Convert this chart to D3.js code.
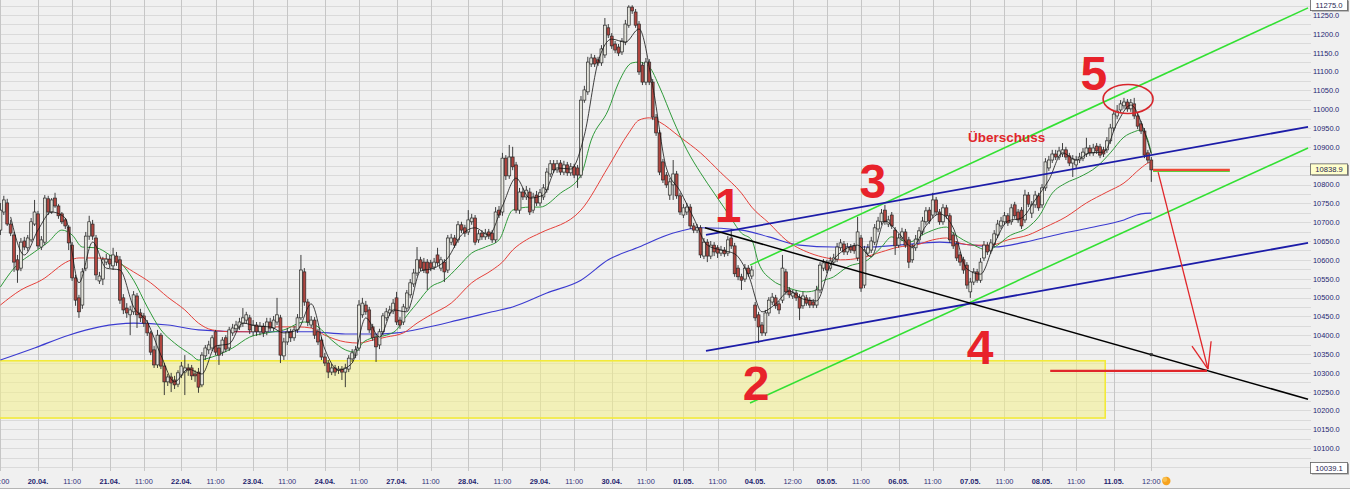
<!DOCTYPE html>
<html><head><meta charset="utf-8">
<script src="https://cdn.jsdelivr.net/npm/d3@7/dist/d3.min.js"></script>
<style>
html,body{margin:0;padding:0;background:#f0f0f0;}
svg{display:block;}
</style></head>
<body><svg id="c" width="1350" height="489"></svg>
<script>
// ---------- DATA (hourly bars, 17.04 11:00 ... 11.05 12:00) ----------
const openP = [
10679,10727,10751,10695,10666,10600,10578,10650,10632,10653,10695,
10722,10634,10647,10762,10727,10764,10743,10722,10706,10687,10639,10552,10499,10480,10578,10663,10695,10658,10544,10549,10594,
10602,10584,10610,10600,10499,10472,10454,10462,10504,10459,10451,10432,10406,10361,10321,10400,10318,10276,10289,10281,10270,
10294,10302,10313,10313,10297,10302,10268,10345,10361,10366,10409,10366,10355,10393,10366,10406,10417,10422,10432,10440,10446,
10409,10427,10409,10424,10409,10435,10419,10435,10446,10345,10382,10409,10393,10414,10446,10568,10488,10427,10440,10409,10387,
10342,10326,10302,10313,10307,10310,10302,10310,10337,10347,10366,10454,10480,10467,10422,10395,10374,10409,10446,10459,10464,
10499,10440,10435,10472,10507,10536,10565,10600,10594,10594,10592,10581,10613,10578,10594,10573,10647,10658,10653,10693,10685,
10674,10701,10711,10653,10671,10661,10674,10671,10653,10732,10727,10870,10823,10873,10852,10732,10780,10767,10780,10732,10772,
10751,10767,10786,10828,10855,10839,10857,10833,10852,10831,10847,10844,10825,11024,11046,11120,11136,11131,11123,11144,11216,
11194,11173,11165,11152,11178,11223,11271,11258,11226,11117,11072,11125,11072,10979,10937,10860,10825,10772,10799,10828,10770,
10719,10727,10740,10690,10679,10685,10610,10647,10610,10639,10632,10618,10626,10618,10658,10637,10578,10555,10549,10578,10557,
10480,10454,10427,10406,10459,10488,10499,10483,10493,10568,10520,10504,10512,10501,10478,10499,10493,10488,10480,10520,10578,
10592,10578,10594,10602,10632,10642,10621,10634,10637,10605,10658,10533,10618,10626,10647,10682,10701,10732,10695,10719,10679,
10639,10658,10674,10653,10600,10632,10653,10674,10701,10732,10719,10759,10727,10701,10738,10717,10666,10642,10613,10600,10586,
10515,10541,10568,10546,10605,10639,10624,10642,10666,10690,10701,10717,10701,10746,10727,10732,10706,10772,10724,10746,10770,
10746,10791,10844,10865,10881,10873,10881,10892,10876,10857,10852,10865,10870,10881,10897,10884,10902,10900,10892,10892,10916,
10950,10982,10998,11009,11019,11001,11014,10982,10961,10942,10884,10865];
const highP = [
10751,10770,10762,10706,10674,10613,10658,10661,10666,10711,10759,
10730,10663,10772,10770,10764,10778,10748,10727,10711,10692,10647,10560,10507,10578,10674,10717,10706,10666,10568,10608,10616,
10613,10632,10621,10610,10509,10485,10478,10517,10512,10470,10459,10440,10411,10371,10414,10406,10326,10297,10300,10292,10307,
10329,10347,10324,10321,10307,10313,10355,10374,10385,10400,10414,10374,10395,10400,10422,10430,10438,10446,10472,10462,10454,
10440,10435,10435,10432,10446,10446,10451,10499,10454,10393,10419,10417,10424,10456,10613,10578,10496,10451,10448,10417,10395,
10353,10334,10324,10321,10318,10318,10324,10347,10363,10371,10493,10499,10491,10475,10430,10403,10417,10459,10472,10478,10496,
10515,10448,10483,10520,10549,10576,10634,10608,10605,10602,10600,10605,10632,10608,10602,10666,10669,10666,10703,10701,10693,
10732,10722,10719,10679,10679,10682,10682,10679,10740,10743,10884,10878,10905,10900,10860,10791,10791,10796,10791,10778,10783,
10788,10801,10844,10865,10865,10865,10865,10863,10860,10857,10855,10852,11035,11062,11139,11147,11144,11139,11170,11242,11226,
11202,11181,11173,11189,11237,11276,11276,11266,11234,11125,11136,11133,11080,10987,10945,10868,10833,10817,10865,10836,10778,
10748,10751,10748,10698,10695,10692,10658,10655,10650,10647,10639,10637,10634,10663,10682,10645,10586,10563,10589,10586,10584,
10488,10462,10435,10467,10501,10512,10507,10491,10613,10576,10528,10520,10520,10509,10515,10507,10501,10496,10531,10594,10602,
10600,10608,10616,10645,10655,10650,10645,10642,10645,10714,10666,10637,10642,10661,10695,10714,10735,10746,10717,10727,10687,
10669,10685,10682,10661,10642,10666,10687,10714,10740,10740,10778,10767,10735,10748,10746,10724,10674,10650,10621,10608,10594,
10552,10578,10576,10605,10650,10647,10655,10679,10706,10714,10727,10724,10748,10754,10735,10740,10786,10780,10756,10783,10778,
10801,10870,10876,10892,10892,10900,10910,10900,10884,10878,10876,10884,10897,10924,10905,10908,10910,10908,10900,10926,10961,
10998,11011,11024,11030,11027,11027,11030,10990,10969,10950,10892,10873];
const lowP = [
10666,10719,10690,10663,10568,10539,10570,10626,10623,10647,10690,
10629,10626,10639,10719,10722,10738,10709,10695,10682,10626,10544,10478,10446,10470,10570,10653,10653,10546,10536,10533,10586,
10578,10573,10584,10483,10456,10446,10400,10454,10419,10435,10422,10398,10347,10313,10313,10310,10241,10265,10249,10257,10262,
10286,10241,10292,10281,10276,10247,10262,10334,10350,10358,10347,10321,10345,10355,10358,10398,10409,10414,10422,10430,10403,
10398,10398,10400,10395,10400,10411,10411,10427,10326,10334,10374,10382,10385,10406,10440,10478,10424,10419,10390,10374,10334,
10318,10286,10294,10292,10297,10281,10262,10302,10329,10339,10358,10446,10454,10406,10385,10329,10363,10400,10438,10451,10456,
10427,10417,10427,10464,10499,10528,10557,10570,10565,10520,10570,10573,10584,10570,10541,10565,10639,10632,10645,10671,10661,
10666,10693,10639,10645,10653,10653,10655,10645,10645,10711,10717,10812,10815,10838,10724,10722,10759,10759,10719,10724,10743,
10743,10759,10778,10820,10831,10831,10825,10825,10823,10823,10817,10791,10817,11017,11038,11112,11112,11115,11115,11136,11189,
11160,11149,11141,11144,11170,11216,11253,11216,11091,11064,11064,11064,10971,10929,10825,10804,10791,10759,10759,10762,10719,
10711,10719,10682,10671,10671,10605,10602,10594,10602,10610,10605,10610,10608,10610,10629,10555,10546,10520,10541,10555,10549,
10438,10379,10398,10398,10451,10480,10470,10456,10485,10507,10499,10496,10491,10440,10470,10478,10472,10472,10472,10512,10570,
10565,10570,10586,10594,10624,10613,10613,10618,10616,10597,10515,10525,10610,10618,10639,10674,10693,10693,10687,10682,10613,
10632,10650,10632,10578,10592,10624,10645,10666,10693,10695,10711,10719,10693,10693,10709,10645,10629,10597,10584,10563,10523,
10499,10533,10539,10539,10597,10613,10616,10634,10658,10682,10693,10690,10693,10709,10698,10682,10698,10740,10711,10738,10730,
10738,10783,10836,10857,10865,10865,10873,10865,10849,10820,10844,10857,10862,10873,10876,10876,10881,10870,10873,10884,10908,
10942,10974,10990,11001,10993,10993,10974,10947,10934,10870,10857,10807];
const closeP = [
10732,10759,10695,10671,10594,10573,10647,10634,10658,10701,10727,
10637,10653,10764,10727,10759,10743,10717,10701,10690,10645,10552,10493,10462,10568,10663,10701,10663,10560,10557,10600,10602,
10589,10613,10594,10493,10467,10459,10467,10507,10454,10446,10432,10406,10355,10321,10400,10318,10276,10289,10273,10268,10300,
10318,10313,10307,10292,10292,10262,10347,10366,10374,10393,10355,10347,10387,10363,10414,10419,10427,10435,10446,10454,10414,
10427,10409,10424,10406,10435,10419,10440,10454,10347,10382,10409,10393,10414,10446,10573,10488,10435,10440,10400,10382,10342,
10326,10302,10313,10302,10310,10302,10313,10339,10353,10361,10480,10485,10462,10414,10393,10369,10409,10451,10462,10467,10485,
10435,10427,10475,10512,10539,10565,10600,10578,10573,10565,10578,10594,10592,10600,10568,10658,10658,10639,10693,10679,10671,
10706,10711,10647,10669,10661,10671,10663,10653,10727,10719,10870,10823,10873,10847,10732,10780,10767,10785,10727,10767,10751,
10778,10791,10833,10855,10839,10855,10833,10852,10831,10847,10825,10825,11024,11051,11125,11136,11120,11123,11160,11223,11197,
11168,11157,11149,11181,11226,11271,11261,11223,11099,11072,11125,11072,10979,10937,10833,10812,10799,10807,10828,10770,10727,
10738,10740,10690,10679,10685,10613,10647,10610,10639,10621,10618,10626,10616,10653,10637,10563,10555,10546,10578,10563,10573,
10446,10422,10406,10459,10493,10501,10478,10467,10578,10515,10507,10512,10499,10472,10504,10485,10480,10480,10520,10586,10592,
10573,10597,10605,10634,10645,10621,10634,10626,10624,10674,10525,10626,10632,10650,10685,10703,10724,10701,10706,10690,10637,
10658,10674,10639,10594,10632,10655,10677,10703,10730,10703,10759,10727,10701,10738,10717,10653,10637,10605,10594,10573,10533,
10541,10568,10546,10594,10639,10621,10645,10669,10695,10703,10717,10698,10738,10717,10706,10690,10772,10748,10746,10772,10738,
10791,10860,10865,10881,10873,10889,10892,10873,10857,10868,10865,10873,10886,10897,10884,10897,10889,10878,10881,10916,10950,
10987,10995,11014,11019,11001,11017,10982,10955,10942,10878,10865,10838.9];

// tick labels (bar index where each label sits)
const dayLabels = ["20.04.","21.04.","22.04.","23.04.","24.04.","27.04.","28.04.","29.04.","30.04.","01.05.","04.05.","05.05.","06.05.","07.05.","08.05.","11.05."];
const dayBars   = [11,32,53,74,95,116,137,158,179,200,221,242,263,284,305,326];
const hourLabels = ["11:00","11:00","11:00","11:00","11:00","11:00","11:00","11:00","11:00","11:00","11:00","12:00","11:00","11:00","11:00","11:00","12:00"];
const hourBars   = [0,21,42,63,84,105,126,147,168,189,210,232,252,273,294,315,337];
const priceTicks = d3.range(10100, 11251, 50);
const priceGrid  = d3.range(10050, 11276, 25);

// moving averages: [bar, price]
const maGreen = [[0,10528],[4,10578],[10,10621],[14,10647],[18,10679],[21,10666],[24,10634],[28,10632],[32,10613],[35,10594],[39,10546],[43,10475],[47,10414],[51,10379],[56,10347],[58,10334],[62,10342],[68,10366],[73,10395],[78,10406],[83,10414],[89,10435],[93,10422],[97,10387],[101,10361],[104,10355],[106,10379],[109,10393],[113,10400],[116,10414],[118,10440],[122,10485],[126,10528],[130,10546],[134,10581],[138,10618],[142,10634],[146,10653],[150,10732],[155,10740],[158,10740],[164,10777],[170,10825],[173,10918],[178,10998],[181,11070],[185,11123],[187,11125],[190,11112],[193,11059],[197,10971],[201,10892],[205,10831],[209,10777],[213,10724],[217,10671],[220,10653],[222,10592],[226,10546],[230,10528],[236,10515],[239,10520],[240,10539],[244,10555],[248,10581],[254,10600],[258,10634],[261,10661],[266,10647],[271,10671],[277,10687],[279,10671],[285,10639],[289,10626],[292,10639],[295,10661],[301,10687],[304,10714],[308,10777],[312,10804],[316,10820],[321,10847],[325,10884],[329,10926],[332,10940],[334,10945],[336,10918],[337,10884]];
const maRed = [[0,10480],[6,10520],[12,10546],[20,10597],[23,10605],[28,10605],[34,10594],[39,10568],[44,10539],[49,10501],[54,10467],[58,10432],[62,10414],[68,10409],[73,10409],[81,10422],[87,10422],[91,10419],[95,10400],[101,10382],[105,10379],[109,10387],[113,10395],[118,10406],[122,10432],[126,10454],[132,10485],[138,10539],[144,10573],[147,10594],[150,10626],[154,10653],[158,10671],[170,10732],[178,10847],[184,10937],[187,10971],[190,10977],[193,10966],[199,10926],[205,10884],[211,10831],[217,10777],[220,10740],[225,10698],[230,10653],[237,10618],[242,10605],[246,10600],[252,10605],[258,10621],[263,10634],[268,10639],[273,10653],[277,10658],[280,10647],[285,10639],[290,10639],[295,10653],[301,10666],[306,10687],[312,10714],[318,10751],[324,10780],[329,10804],[334,10844],[336,10857],[337,10860]];
const maBlue = [[0,10334],[10,10366],[20,10400],[29,10422],[39,10432],[49,10427],[58,10414],[73,10409],[91,10409],[101,10403],[111,10403],[116,10406],[124,10419],[134,10440],[144,10462],[150,10475],[160,10512],[170,10546],[178,10600],[187,10634],[197,10671],[205,10685],[217,10679],[225,10661],[234,10639],[244,10634],[254,10634],[263,10639],[275,10647],[285,10639],[291,10634],[300,10647],[309,10666],[319,10685],[329,10706],[334,10722],[337,10724]];
const maBlack = [[3,10714],[7,10613],[11,10679],[15,10727],[19,10711],[23,10539],[27,10647],[31,10578],[35,10573],[39,10475],[43,10435],[47,10347],[51,10276],[55,10310],[59,10297],[63,10371],[67,10377],[71,10432],[75,10424],[79,10422],[83,10406],[87,10414],[91,10483],[95,10363],[99,10307],[103,10326],[107,10446],[111,10395],[115,10467],[119,10462],[123,10570],[127,10578],[131,10605],[135,10666],[139,10685],[143,10666],[147,10743],[151,10817],[155,10764],[159,10772],[163,10844],[167,10841],[171,10931],[175,11125],[179,11186],[183,11178],[187,11213],[191,11062],[195,10844],[199,10783],[203,10711],[207,10639],[211,10626],[215,10616],[219,10560],[223,10462],[227,10483],[231,10517],[235,10496],[239,10491],[243,10586],[247,10626],[251,10639],[255,10608],[259,10703],[263,10671],[267,10634],[271,10690],[275,10722],[279,10685],[283,10576],[287,10562],[291,10642],[295,10703],[299,10711],[303,10759],[307,10812],[311,10884],[315,10865],[319,10884],[323,10886],[327,10963],[331,11011],[335,10940],[337,10881]];

// drawn analysis (bar, price)
const lineBlack      = [[206.3,10685],[382.9,10230]];
const lineBlueUpper  = [[206.6,10666],[382.9,10953]];
const lineBlueLower  = [[206.6,10358],[382.9,10645]];
const lineGreenUpper = [[219.5,10586],[382.9,11269]];
const lineGreenLower = [[219.5,10220],[382.9,10897]];
const targetLine     = [[307.4,10305],[353.3,10305]];
const arrowLine      = [[339,10833],[353.6,10310]];
const lastLine       = [[337.5,10838.9],[360,10838.9]];
const zoneBars   = [-5, 323.5];
const zonePrices = [10180, 10332];
const waveLabels = ["1","2","3","4","5"];
const waveBars   = [213.1,221.3,255.5,286.9,320.2];
const wavePrices = [10700,10228,10764,10324,11051];
const noteText = "Überschuss", noteBar = 283.3, notePrice = 10913;
const topCircle = [330.2, 11027];
const boxValues = [11275.0, 10838.9, 10039.1];

// ---------- DRAW ----------
const W = 1350, H = 489, plotR = 1309, plotB = 471;
const svg = d3.select("#c");
const x = d3.scaleLinear().domain([0, 337]).range([0.4, 1151.3]);
const y = d3.scaleLinear().domain([10039.1, 11275]).range([471.1, 5.6]);
const FONT = "'Liberation Sans', Arial, sans-serif";

svg.append("rect").attr("width", W).attr("height", H).attr("fill", "#f0f0f0");
svg.append("defs").append("clipPath").attr("id", "pc")
  .append("rect").attr("x", 0).attr("y", 0).attr("width", plotR).attr("height", plotB);

const grid = svg.append("g");
grid.selectAll("line.h").data(priceGrid).join("line")
  .attr("x1", 0).attr("x2", plotR + 2)
  .attr("y1", d => Math.round(y(d)) + 0.5).attr("y2", d => Math.round(y(d)) + 0.5)
  .attr("stroke", "#dadada").attr("stroke-width", 1);
grid.selectAll("line.v").data(dayBars.concat(hourBars)).join("line")
  .attr("x1", d => Math.round(x(d)) + 0.5).attr("x2", d => Math.round(x(d)) + 0.5)
  .attr("y1", 0).attr("y2", plotB)
  .attr("stroke", "#c6c6c6").attr("stroke-width", 1);

const plot = svg.append("g").attr("clip-path", "url(#pc)");

// support zone
plot.append("rect")
  .attr("x", x(zoneBars[0])).attr("width", x(zoneBars[1]) - x(zoneBars[0]))
  .attr("y", y(zonePrices[1])).attr("height", y(zonePrices[0]) - y(zonePrices[1]))
  .attr("fill", "#f4f08a").attr("fill-opacity", 0.55)
  .attr("stroke", "#f2ea3a").attr("stroke-width", 1.6);

const bars = d3.range(closeP.length).map(i => ({i, o: openP[i], h: highP[i], l: lowP[i], c: closeP[i]}));

const mk = d3.line().x(d => x(d[0])).y(d => y(d[1])).curve(d3.curveMonotoneX);
const st = d3.line().x(d => x(d[0])).y(d => y(d[1]));

plot.append("path").datum(maBlue).attr("d", mk).attr("fill", "none").attr("stroke", "#3b3bd0").attr("stroke-width", 1.1);
plot.append("path").datum(maRed).attr("d", mk).attr("fill", "none").attr("stroke", "#e5403a").attr("stroke-width", 1);
plot.append("path").datum(maGreen).attr("d", mk).attr("fill", "none").attr("stroke", "#2f9a3a").attr("stroke-width", 1);

// candles
const cg = plot.append("g");
cg.selectAll("line.w").data(bars).join("line")
  .attr("x1", d => x(d.i)).attr("x2", d => x(d.i))
  .attr("y1", d => y(d.h)).attr("y2", d => y(d.l))
  .attr("stroke", "#2a2a2a").attr("stroke-width", 0.9);
cg.selectAll("rect.b").data(bars).join("rect")
  .attr("x", d => x(d.i) - 1.45).attr("width", 2.9)
  .attr("y", d => y(Math.max(d.o, d.c)))
  .attr("height", d => Math.max(0.8, Math.abs(y(d.o) - y(d.c))))
  .attr("fill", d => d.c >= d.o ? "#e2e2da" : "#b0453f")
  .attr("stroke", "#2b2b2b").attr("stroke-width", 0.7);

plot.append("path").datum(maBlack).attr("d", mk).attr("fill", "none").attr("stroke", "#111").attr("stroke-width", 0.8);

// analysis lines
const ln = (data, color, w) => plot.append("path").datum(data).attr("d", st)
  .attr("fill", "none").attr("stroke", color).attr("stroke-width", w);
ln(lineGreenUpper, "#33e033", 1.6);
ln(lineGreenLower, "#33e033", 1.6);
ln(lineBlueUpper, "#1c1ca8", 1.8);
ln(lineBlueLower, "#1c1ca8", 1.8);
ln(lineBlack, "#000", 1.5);
ln(targetLine, "#e0262a", 2.2);
ln(arrowLine, "#e0262a", 1.3);
// arrow head
{
  const [a, b] = arrowLine;
  const x1 = x(a[0]), y1 = y(a[1]), x2 = x(b[0]), y2 = y(b[1]);
  const th = Math.atan2(y2 - y1, x2 - x1), L = 28, sp = 0.36;
  [th - sp, th + sp].forEach(t => plot.append("line")
    .attr("x1", x2).attr("y1", y2)
    .attr("x2", x2 - L * Math.cos(t)).attr("y2", y2 - L * Math.sin(t))
    .attr("stroke", "#e0262a").attr("stroke-width", 1.3));
}
// last price marker line
plot.append("path").datum(lastLine).attr("d", st).attr("transform", "translate(0,1.6)")
  .attr("fill", "none").attr("stroke", "#5ccf3c").attr("stroke-width", 1.2);
ln(lastLine, "#ee4a36", 2.2);
// small marker on black line at the last bar
{
  const t = (337 - lineBlack[0][0]) / (lineBlack[1][0] - lineBlack[0][0]);
  const pv = lineBlack[0][1] + t * (lineBlack[1][1] - lineBlack[0][1]);
  plot.append("rect").attr("x", x(337) - 1.5).attr("y", y(pv) - 1.5).attr("width", 3).attr("height", 3).attr("fill", "#333");
}

// ellipse around the top
plot.append("ellipse").attr("cx", x(topCircle[0])).attr("cy", y(topCircle[1]))
  .attr("rx", 25).attr("ry", 14.5).attr("fill", "none").attr("stroke", "#d8262c").attr("stroke-width", 1.6);

// wave numbers
svg.selectAll("text.wave").data(waveLabels).join("text")
  .attr("x", (d, i) => x(waveBars[i])).attr("y", (d, i) => y(wavePrices[i]))
  .attr("text-anchor", "middle").attr("font-family", FONT).attr("font-weight", "bold")
  .attr("font-size", 48).attr("fill", "#e8222a").text(d => d);
svg.append("text").attr("x", x(noteBar)).attr("y", y(notePrice))
  .attr("font-family", FONT).attr("font-weight", "bold").attr("font-size", 13.5)
  .attr("fill", "#e0262a").text(noteText);

// right price axis
const ay = svg.append("g").attr("transform", `translate(${plotR},0)`)
  .call(d3.axisRight(y).tickValues(priceTicks).tickFormat(d3.format(".1f")).tickSize(0).tickPadding(4));
ay.select(".domain").remove();
ay.selectAll("text").attr("font-family", FONT).attr("font-size", 7.4).attr("fill", "#262670");

// value boxes
boxValues.forEach((v, k) => {
  const cy = Math.min(Math.max(y(v), 5.6), 468.5);
  const g = svg.append("g");
  g.append("rect").attr("x", 1312).attr("y", cy - 5).attr("width", 37).attr("height", 11).attr("fill", "#9a9a9a");
  g.append("rect").attr("x", 1310.5).attr("y", cy - 6).attr("width", 37).attr("height", 11)
    .attr("fill", k === 1 ? "#ffffcc" : "#ffffff").attr("stroke", "#606060").attr("stroke-width", 0.8);
  g.append("text").attr("x", 1329).attr("y", cy + 2.6).attr("text-anchor", "middle")
    .attr("font-family", FONT).attr("font-size", 7.6).attr("fill", "#1e1e50").text(d3.format(".1f")(v));
});

// bottom time axis
const ax = svg.append("g");
ax.selectAll("text.d").data(dayLabels).join("text")
  .attr("x", (d, i) => x(dayBars[i])).attr("y", 484).attr("text-anchor", "middle")
  .attr("font-family", FONT).attr("font-size", 7.4).attr("font-weight", "bold").attr("fill", "#1f1f6e").text(d => d);
ax.selectAll("text.h").data(hourLabels).join("text")
  .attr("x", (d, i) => x(hourBars[i])).attr("y", 484).attr("text-anchor", "middle")
  .attr("font-family", FONT).attr("font-size", 7.4).attr("fill", "#33337a").text(d => d);
svg.append("circle").attr("cx", x(337) + 15).attr("cy", 481).attr("r", 4.2).attr("fill", "#f6a21e");
svg.append("circle").attr("cx", x(337) + 13.5).attr("cy", 479.5).attr("r", 2.4).attr("fill", "#f8c050");
svg.append("line").attr("x1", 0).attr("x2", W).attr("y1", 488.5).attr("y2", 488.5).attr("stroke", "#b4b4b4");

// sanity check of data lengths
const n = closeP.length;
if (openP.length !== n || highP.length !== n || lowP.length !== n)
  svg.append("text").attr("x", 20).attr("y", 20).attr("fill", "red").text(`len ${openP.length} ${highP.length} ${lowP.length} ${n}`);
</script>
</body></html>
